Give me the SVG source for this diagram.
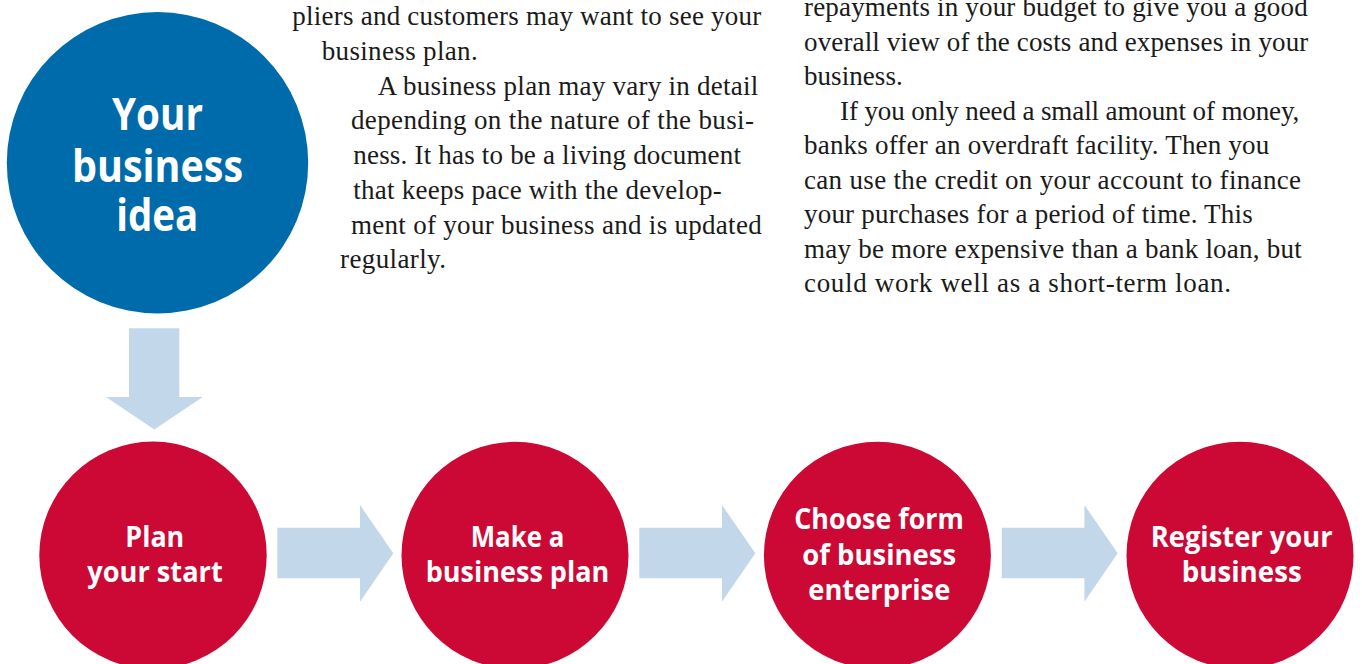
<svg xmlns="http://www.w3.org/2000/svg" width="1362" height="664" viewBox="0 0 1362 664">
  <style>
    .body { font-family: "Liberation Serif", "Times New Roman", serif; font-size: 27px; fill: #1a1a1a; }
    .lbl { font-family: "Open Sans", "Liberation Sans", sans-serif; font-weight: 700; fill: #ffffff; text-anchor: middle; }
    .big { font-size: 44px; }
    .small { font-size: 29px; }
    .blue { fill: #006BAA; }
    .red { fill: #CC0835; }
    .arrow { fill: #C2D7EA; }
  </style>
  <defs>
    <path id="rarrow" d="M0,-25.6 L82.7,-25.6 L82.7,-48.3 L116,0 L82.7,48.4 L82.7,25 L0,25 Z"/>
  </defs>
  <rect width="1362" height="664" fill="#ffffff"/>

  <g id="text-left" class="body">
    <text x="292.3" y="25.3" textLength="469" lengthAdjust="spacing">pliers and customers may want to see your</text>
    <text x="321.7" y="60" textLength="156" lengthAdjust="spacing">business plan.</text>
    <text x="377.7" y="94.7" textLength="380.6" lengthAdjust="spacing">A business plan may vary in detail</text>
    <text x="351" y="129.4" textLength="403" lengthAdjust="spacing">depending on the nature of the busi-</text>
    <text x="353.3" y="164" textLength="387.7" lengthAdjust="spacing">ness. It has to be a living document</text>
    <text x="353.3" y="198.8" textLength="368.4" lengthAdjust="spacing">that keeps pace with the develop-</text>
    <text x="351" y="233.5" textLength="410.7" lengthAdjust="spacing">ment of your business and is updated</text>
    <text x="340" y="268.2" textLength="106" lengthAdjust="spacing">regularly.</text>
  </g>

  <g id="text-right" class="body">
    <text x="804" y="16" textLength="503.7" lengthAdjust="spacing">repayments in your budget to give you a good</text>
    <text x="804" y="50.5" textLength="504.3" lengthAdjust="spacing">overall view of the costs and expenses in your</text>
    <text x="804" y="85" textLength="98.7" lengthAdjust="spacing">business.</text>
    <text x="840" y="119.5" textLength="459.3" lengthAdjust="spacing">If you only need a small amount of money,</text>
    <text x="804" y="154" textLength="465.3" lengthAdjust="spacing">banks offer an overdraft facility. Then you</text>
    <text x="804" y="188.5" textLength="497" lengthAdjust="spacing">can use the credit on your account to finance</text>
    <text x="804" y="223" textLength="448.7" lengthAdjust="spacing">your purchases for a period of time. This</text>
    <text x="804" y="257.5" textLength="497.7" lengthAdjust="spacing">may be more expensive than a bank loan, but</text>
    <text x="804" y="292" textLength="427" lengthAdjust="spacing">could work well as a short-term loan.</text>
  </g>

  <g id="connectors">
    <path class="arrow" d="M129,328.3 L179.3,328.3 L179.3,397 L202.7,397 L154.3,429.5 L106,397 L129,397 Z"/>
    <use href="#rarrow" class="arrow" x="277.3" y="553.3"/>
    <use href="#rarrow" class="arrow" x="639.3" y="553.3"/>
    <use href="#rarrow" class="arrow" x="1001.7" y="553.3"/>
  </g>

  <g id="node-idea">
    <circle class="blue" cx="157.5" cy="162.8" r="150.7"/>
    <text class="lbl big" x="157.5" y="130" textLength="91" lengthAdjust="spacingAndGlyphs">Your</text>
    <text class="lbl big" x="157.5" y="181.7" textLength="171" lengthAdjust="spacingAndGlyphs">business</text>
    <text class="lbl big" x="157.3" y="231" textLength="82" lengthAdjust="spacingAndGlyphs">idea</text>
  </g>

  <g id="node-plan-start">
    <circle class="red" cx="153" cy="555.3" r="113.7"/>
    <text class="lbl small" x="154.8" y="547.3" textLength="59" lengthAdjust="spacingAndGlyphs">Plan</text>
    <text class="lbl small" x="155" y="581.7" textLength="135.4" lengthAdjust="spacingAndGlyphs">your start</text>
  </g>

  <g id="node-business-plan">
    <circle class="red" cx="515" cy="555.3" r="113.5"/>
    <text class="lbl small" x="517.5" y="547.3" textLength="93.6" lengthAdjust="spacingAndGlyphs">Make a</text>
    <text class="lbl small" x="517.5" y="581.7" textLength="183.6" lengthAdjust="spacingAndGlyphs">business plan</text>
  </g>

  <g id="node-form">
    <circle class="red" cx="877.4" cy="555.3" r="113.5"/>
    <text class="lbl small" x="879" y="529" textLength="169.7" lengthAdjust="spacingAndGlyphs">Choose form</text>
    <text class="lbl small" x="879.2" y="565" textLength="153.7" lengthAdjust="spacingAndGlyphs">of business</text>
    <text class="lbl small" x="879.3" y="600" textLength="142" lengthAdjust="spacingAndGlyphs">enterprise</text>
  </g>

  <g id="node-register">
    <circle class="red" cx="1240" cy="555.3" r="113.5"/>
    <text class="lbl small" x="1241.7" y="547.3" textLength="182" lengthAdjust="spacingAndGlyphs">Register your</text>
    <text class="lbl small" x="1241.7" y="581.7" textLength="120" lengthAdjust="spacingAndGlyphs">business</text>
  </g>
</svg>
